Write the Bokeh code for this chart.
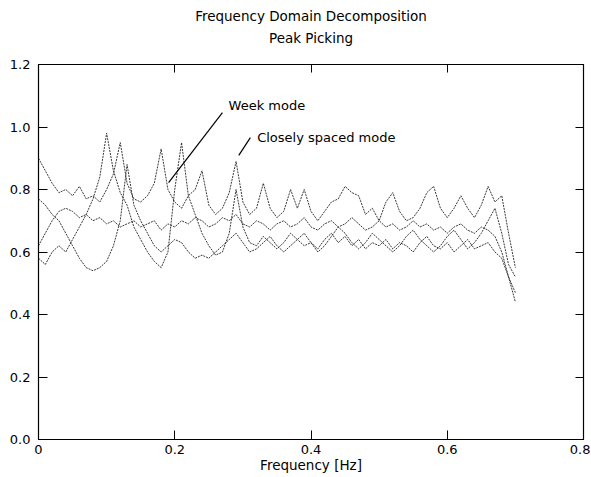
from bokeh.plotting import figure
from bokeh.models import LinearAxis, Range1d, Title, Label, FixedTicker, Segment, ColumnDataSource
from bokeh.embed import file_html
from bokeh.resources import INLINE

# Frequency grid [Hz]
freq = [round(i * 0.01, 2) for i in range(71)]

# Singular value curves
sv_a = [0.90, 0.86, 0.82, 0.79, 0.80, 0.78, 0.81, 0.77, 0.78, 0.76,
        0.80, 0.85, 0.95, 0.82, 0.77, 0.76, 0.78, 0.82, 0.93, 0.80,
        0.76, 0.74, 0.78, 0.80, 0.86, 0.75, 0.72, 0.74, 0.79, 0.89,
        0.76, 0.72, 0.74, 0.82, 0.74, 0.71, 0.73, 0.80, 0.74, 0.80,
        0.73, 0.70, 0.73, 0.76, 0.77, 0.81, 0.79, 0.78, 0.72, 0.74,
        0.70, 0.76, 0.79, 0.73, 0.70, 0.71, 0.74, 0.79, 0.81, 0.74,
        0.71, 0.74, 0.78, 0.74, 0.71, 0.75, 0.81, 0.76, 0.78, 0.66,
        0.55]
sv_b = [0.58, 0.56, 0.60, 0.62, 0.60, 0.64, 0.68, 0.72, 0.77, 0.84,
        0.98, 0.86, 0.79, 0.75, 0.68, 0.64, 0.60, 0.57, 0.55, 0.60,
        0.80, 0.95, 0.78, 0.72, 0.66, 0.62, 0.59, 0.60, 0.66, 0.80,
        0.68, 0.63, 0.62, 0.65, 0.63, 0.61, 0.63, 0.66, 0.64, 0.62,
        0.63, 0.61, 0.64, 0.66, 0.63, 0.65, 0.62, 0.64, 0.61, 0.63,
        0.62, 0.64, 0.61, 0.63, 0.62, 0.60, 0.63, 0.65, 0.62, 0.61,
        0.63, 0.60, 0.62, 0.64, 0.61, 0.62, 0.63, 0.60, 0.58, 0.52,
        0.47]
sv_c = [0.77, 0.75, 0.72, 0.70, 0.66, 0.62, 0.58, 0.55, 0.54, 0.55,
        0.57, 0.62, 0.70, 0.88, 0.75, 0.70, 0.66, 0.62, 0.60, 0.62,
        0.64, 0.63, 0.60, 0.58, 0.59, 0.58, 0.60, 0.62, 0.64, 0.66,
        0.63, 0.60, 0.61, 0.63, 0.65, 0.62, 0.60, 0.62, 0.64, 0.66,
        0.63, 0.60, 0.62, 0.65, 0.68, 0.66, 0.63, 0.61, 0.63, 0.66,
        0.64, 0.62, 0.60, 0.62, 0.65, 0.67, 0.64, 0.62, 0.60, 0.62,
        0.65, 0.67, 0.64, 0.61, 0.63, 0.66, 0.70, 0.74, 0.66, 0.56,
        0.52]
sv_d = [0.62, 0.66, 0.70, 0.73, 0.74, 0.73, 0.71, 0.72, 0.70, 0.71,
        0.69, 0.70, 0.68, 0.69, 0.70, 0.68, 0.69, 0.70, 0.67, 0.69,
        0.68, 0.70, 0.69, 0.71, 0.70, 0.68, 0.69, 0.71, 0.70, 0.72,
        0.69, 0.68, 0.70, 0.69, 0.67, 0.69, 0.70, 0.68, 0.69, 0.71,
        0.68, 0.67, 0.69, 0.70, 0.68, 0.69, 0.71, 0.69, 0.67, 0.68,
        0.70, 0.68, 0.69, 0.67, 0.68, 0.70, 0.68, 0.69, 0.67, 0.68,
        0.66, 0.68, 0.69, 0.67, 0.66, 0.68, 0.67, 0.65, 0.60, 0.52,
        0.44]

x_ticks = [0, 0.2, 0.4, 0.6, 0.8]
x_tick_labels = {0: "0", 0.2: "0.2", 0.4: "0.4", 0.6: "0.6", 0.8: "0.8"}
y_ticks = [0, 0.2, 0.4, 0.6, 0.8, 1.0, 1.2]
y_tick_labels = {0: "0.0", 0.2: "0.2", 0.4: "0.4", 0.6: "0.6", 0.8: "0.8", 1: "1.0", 1.2: "1.2"}
title_main = "Frequency Domain Decomposition"
title_sub = "Peak Picking"

FONT = "DejaVu Sans"

p = figure(width=590, height=476, output_backend="svg", toolbar_location=None,
           x_range=Range1d(0, 0.8), y_range=Range1d(0, 1.2),
           min_border_left=38, min_border_right=7, min_border_top=64, min_border_bottom=37,
           background_fill_color="white", border_fill_color="white")
p.grid.visible = False
p.outline_line_color = "black"
p.outline_line_width = 1.2

for ax in (p.xaxis[0], p.yaxis[0]):
    ax.major_tick_in = 9
    ax.major_tick_out = 0
    ax.minor_tick_line_color = None
    ax.axis_line_color = "black"
    ax.major_tick_line_color = "black"
    ax.major_label_text_font = FONT
    ax.major_label_text_font_size = "13px"
    ax.major_label_text_color = "black"

p.xaxis[0].ticker = FixedTicker(ticks=x_ticks)
p.xaxis[0].major_label_overrides = x_tick_labels
p.xaxis[0].major_label_standoff = 5
p.xaxis[0].axis_label = "Frequency [Hz]"
p.xaxis[0].axis_label_text_font = FONT
p.xaxis[0].axis_label_text_font_size = "13.5px"
p.xaxis[0].axis_label_text_font_style = "normal"
p.xaxis[0].axis_label_text_color = "black"
p.xaxis[0].axis_label_standoff = 0
p.yaxis[0].ticker = FixedTicker(ticks=y_ticks)
p.yaxis[0].major_label_overrides = y_tick_labels
p.yaxis[0].major_label_standoff = 8

# box ticks on top and right (no tick labels); the top axis carries the subtitle line
top = LinearAxis(ticker=FixedTicker(ticks=x_ticks), major_tick_in=8, major_tick_out=0,
                 minor_tick_line_color=None, axis_line_color=None,
                 major_label_text_color=None, major_label_text_font_size="0px",
                 major_label_standoff=0,
                 axis_label=title_sub, axis_label_text_font=FONT,
                 axis_label_text_font_size="13.5px", axis_label_text_font_style="normal",
                 axis_label_text_color="black", axis_label_standoff=19)
right = LinearAxis(ticker=FixedTicker(ticks=y_ticks), major_tick_in=8, major_tick_out=0,
                   minor_tick_line_color=None, axis_line_color=None,
                   major_label_text_color=None, major_label_text_font_size="0px",
                   major_label_standoff=0)
p.add_layout(top, "above")
p.add_layout(right, "right")

p.add_layout(Title(text=title_main, align="center", text_font=FONT, text_color="black",
                   text_font_size="13.5px", text_font_style="normal", standoff=6), "above")

for sv in (sv_a, sv_b, sv_c, sv_d):
    p.line(freq, sv, line_color="#222222", line_width=1, line_dash="2 1", line_alpha=0.9)

# annotations
ann = ColumnDataSource(dict(x0=[0.270, 0.311], y0=[1.046, 0.966], x1=[0.191, 0.294], y1=[0.822, 0.909]))
p.add_glyph(ann, Segment(x0="x0", y0="y0", x1="x1", y1="y1", line_color="black", line_width=1.2))
p.add_layout(Label(x=0.279, y=1.069, text="Week mode", text_font=FONT, text_font_size="13px",
                   text_color="black", text_baseline="middle"))
p.add_layout(Label(x=0.321, y=0.966, text="Closely spaced mode", text_font=FONT, text_font_size="13px",
                   text_color="black", text_baseline="middle"))

open("out.html", "w").write(file_html(p, INLINE))
